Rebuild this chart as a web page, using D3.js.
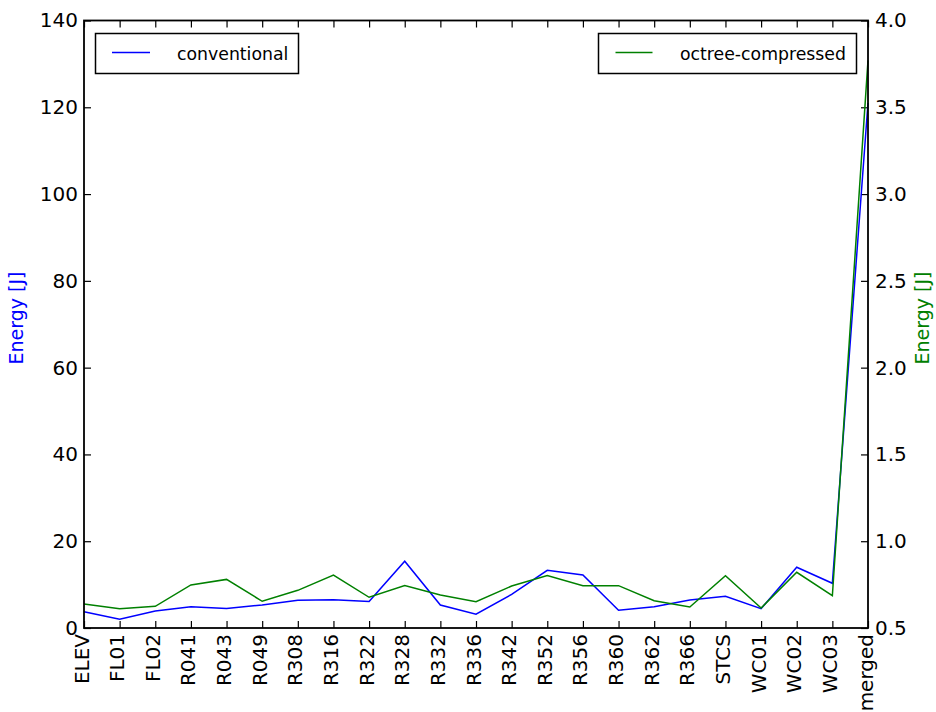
<!DOCTYPE html>
<html>
<head>
<meta charset="utf-8">
<script src="https://cdn.jsdelivr.net/npm/d3@7"></script>
<style>
  html, body { margin: 0; padding: 0; background: #ffffff; }
  svg { display: block; font-family: "DejaVu Sans", sans-serif; }
</style>
</head>
<body>
<svg id="chart" width="936" height="712"></svg>
<script>
// Scenes along the x axis
const categories = ["ELEV", "FL01", "FL02", "R041", "R043", "R049", "R308", "R316",
  "R322", "R328", "R332", "R336", "R342", "R352", "R356", "R360", "R362", "R366",
  "STCS", "WC01", "WC02", "WC03", "merged"];

// Energy [J] of the conventional run (left axis)
const conventional = [3.75, 2.0, 3.9, 4.9, 4.5, 5.3, 6.4, 6.5, 6.1, 15.4, 5.3, 3.2,
  7.75, 13.3, 12.2, 4.07, 4.9, 6.45, 7.3, 4.45, 14.0, 10.3, 121.0];

// Energy [J] of the octree-compressed run (right axis)
const octree = [0.638, 0.611, 0.625, 0.748, 0.780, 0.654, 0.717, 0.805, 0.677, 0.744,
  0.690, 0.651, 0.742, 0.803, 0.744, 0.744, 0.657, 0.621, 0.801, 0.615, 0.821, 0.686, 3.77];

const leftTicks = [0, 20, 40, 60, 80, 100, 120, 140];
const rightTicks = [0.5, 1.0, 1.5, 2.0, 2.5, 3.0, 3.5, 4.0];

const seriesNames = ["conventional", "octree-compressed"];
const axisLabel = "Energy [J]";

const svg = d3.select("#chart");
const plot = { left: 84, right: 868, top: 20.5, bottom: 628 };
const BLUE = "#0000ff", GREEN = "#008000";
const TICK_FONT = 20;

const x = d3.scalePoint().domain(categories).range([plot.left, plot.right]).padding(0);
const yL = d3.scaleLinear().domain([0, 140]).range([plot.bottom, plot.top]);
const yR = d3.scaleLinear().domain([0.5, 4.0]).range([plot.bottom, plot.top]);

function styleAxis(g) {
  g.select(".domain").remove();
  g.selectAll(".tick line").attr("stroke", "#000").attr("stroke-width", 1.2);
  g.selectAll(".tick text").attr("fill", "#000")
    .style("font-family", "'DejaVu Sans', sans-serif")
    .style("font-size", TICK_FONT + "px");
}

// Left axis
svg.append("g").attr("transform", `translate(${plot.left},0)`)
  .call(d3.axisLeft(yL).tickValues(leftTicks).tickSize(-7).tickPadding(6).tickFormat(d3.format("d")))
  .call(styleAxis);

// Right axis
svg.append("g").attr("transform", `translate(${plot.right},0)`)
  .call(d3.axisRight(yR).tickValues(rightTicks).tickSize(-7).tickPadding(7).tickFormat(d3.format(".1f")))
  .call(styleAxis);

// Top axis: ticks only
svg.append("g").attr("transform", `translate(0,${plot.top})`)
  .call(d3.axisTop(x).tickSize(-7).tickFormat(""))
  .call(styleAxis);

// Bottom axis with rotated category labels
const bottom = svg.append("g").attr("transform", `translate(0,${plot.bottom})`)
  .call(d3.axisBottom(x).tickSize(-7))
  .call(styleAxis);
bottom.selectAll(".tick text")
  .attr("transform", "rotate(-90)")
  .attr("x", -6)
  .attr("y", 0)
  .attr("dy", "0.2em")
  .attr("text-anchor", "end");

// Series lines
const lineL = d3.line().x((d, i) => x(categories[i])).y(d => yL(d));
const lineR = d3.line().x((d, i) => x(categories[i])).y(d => yR(d));

svg.append("path").datum(conventional)
  .attr("d", lineL).attr("fill", "none").attr("stroke", BLUE).attr("stroke-width", 1.5);
svg.append("path").datum(octree)
  .attr("d", lineR).attr("fill", "none").attr("stroke", GREEN).attr("stroke-width", 1.5);

// Frame
svg.append("rect")
  .attr("x", plot.left).attr("y", plot.top)
  .attr("width", plot.right - plot.left).attr("height", plot.bottom - plot.top)
  .attr("fill", "none").attr("stroke", "#000").attr("stroke-width", 1.8);

// Axis labels
svg.append("text")
  .attr("transform", `translate(23,318) rotate(-90)`)
  .attr("text-anchor", "middle")
  .attr("fill", BLUE)
  .style("font-size", "19px")
  .text(axisLabel);
svg.append("text")
  .attr("transform", `translate(928.5,318) rotate(-90)`)
  .attr("text-anchor", "middle")
  .attr("fill", GREEN)
  .style("font-size", "19px")
  .text(axisLabel);

// Legends
function legend(bx, by, bw, bh, lx1, lx2, tx, label, color) {
  const g = svg.append("g");
  g.append("rect").attr("x", bx).attr("y", by).attr("width", bw).attr("height", bh)
    .attr("fill", "#fff").attr("stroke", "#000").attr("stroke-width", 1.5);
  g.append("line").attr("x1", lx1).attr("x2", lx2).attr("y1", by + 19).attr("y2", by + 19)
    .attr("stroke", color).attr("stroke-width", 1.5);
  g.append("text").attr("x", tx).attr("y", by + 26.5)
    .attr("fill", "#000").style("font-size", "17.3px").text(label);
}
legend(95.5, 33.5, 203, 40, 112, 150, 177, seriesNames[0], BLUE);
legend(598.5, 33.5, 258, 40, 615.5, 652.5, 680, seriesNames[1], GREEN);
</script>
</body>
</html>
